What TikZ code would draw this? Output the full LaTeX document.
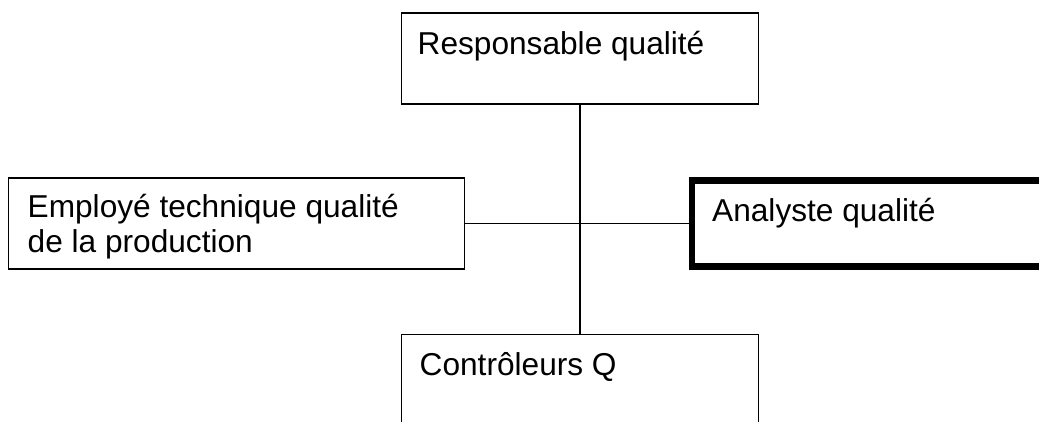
\documentclass[tikz,border=0pt]{standalone}
\usepackage{fontspec}
\setmainfont{Liberation Sans}
\usetikzlibrary{positioning}
\newcommand{\lblfont}{\fontsize{22.5}{24.9}\selectfont}

\begin{document}
\begin{tikzpicture}[
  x=0.025cm, y=-0.025cm,
  node distance=5.725cm,
  boite/.style={
    draw, line width=0.75pt,
    minimum width=8.9cm, minimum height=2.275cm,
    inner sep=0pt
  },
  txt/.style={anchor=north west, inner sep=0pt, align=left, font=\lblfont}
]
\useasboundingbox (0,0) rectangle (1039,421);
\clip (0,0) rectangle (1039,421);

\node[boite] (resp) at (580,58.5) {};
\node[boite] (ctrl) [below=of resp] {};
\node[boite, minimum width=11.375cm] (employe) at (236.5,223.5) {};
\node[boite, line width=4.3pt, minimum width=11cm, minimum height=2.15cm] (analyste) at (912,223.5) {};

\node[txt] (t-resp) at ([shift={(16,18)}]resp.north west) {Responsable qualité};
\node[txt] (t-employe) at ([shift={(19,16)}]employe.north west) {Employé technique qualité\\de la production};
\node[txt] (t-analyste) at ([shift={(23,20)}]analyste.north west) {Analyste qualité};
\node[txt] (t-ctrl) at ([shift={(18,19)}]ctrl.north west) {Contrôleurs Q};

\draw[line width=0.75pt] (resp) -- (ctrl);
\draw[line width=0.75pt] (employe) -- (analyste);

\end{tikzpicture}
\end{document}
